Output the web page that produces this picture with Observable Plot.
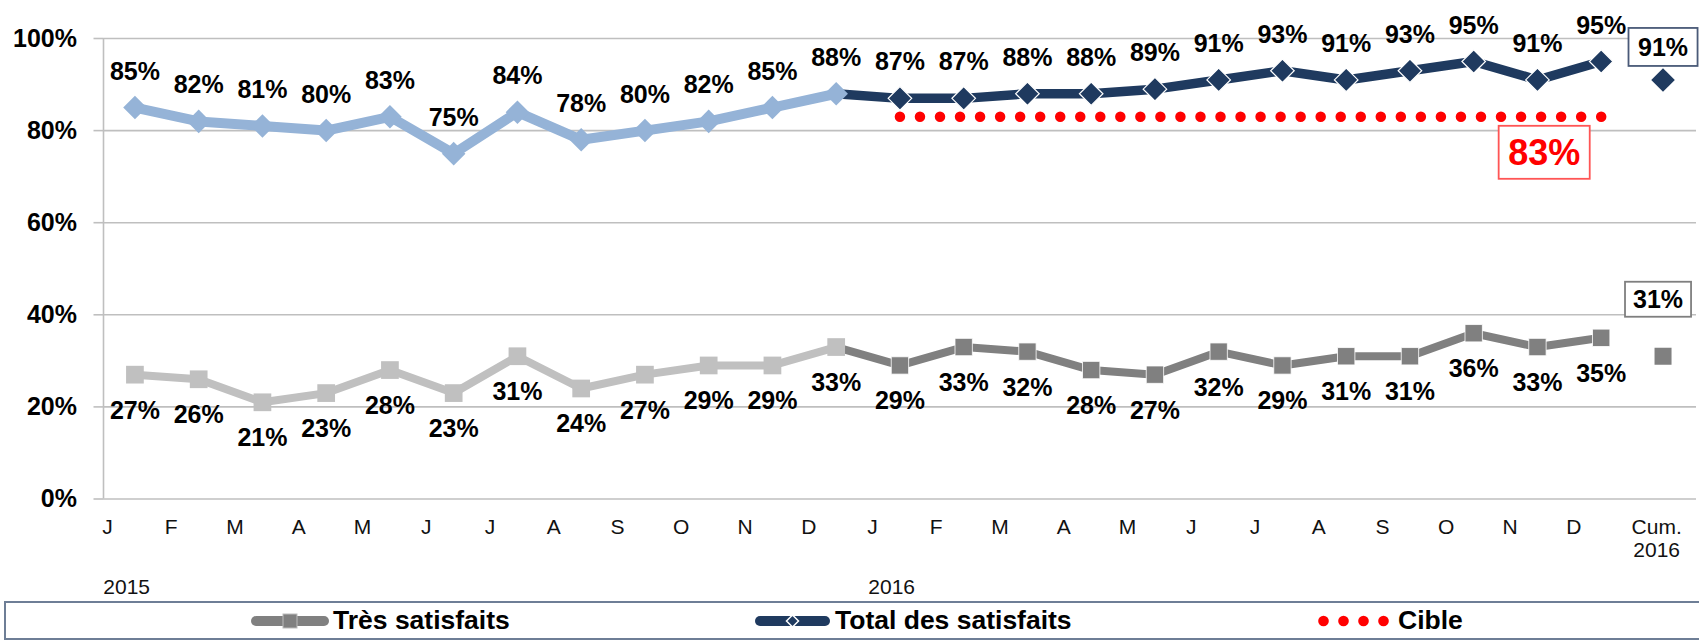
<!DOCTYPE html>
<html>
<head>
<meta charset="utf-8">
<script src="https://cdn.jsdelivr.net/npm/d3@7"></script>
<script src="https://cdn.jsdelivr.net/npm/@observablehq/plot@0.6"></script>
<style>
  html, body { margin: 0; padding: 0; background: #fff; }
  body { width: 1699px; height: 642px; overflow: hidden; position: relative;
         font-family: "Liberation Sans", Arial, Helvetica, sans-serif; }
  #chart { position: absolute; left: 0; top: 0; }
  #legend { position: absolute; left: 4px; top: 601px; width: 1720px; height: 39px;
            border: 2px solid #6E7E96; box-sizing: border-box; background: #fff; }
  .item { position: absolute; top: 0px; height: 35px; display: flex; align-items: center;
          font-weight: bold; font-size: 26.5px; color: #000; white-space: nowrap; }
  .item svg { display: block; }
</style>
</head>
<body>
<div id="chart"></div>
<div id="legend"></div>
<script>
// ---------------- data ----------------
const monthLetters = ["J", "F", "M", "A", "M", "J", "J", "A", "S", "O", "N", "D"];
const years = ["2015", "2016"];
const cumLabel = ["Cum.", "2016"];
const seriesNames = ["Très satisfaits", "Total des satisfaits", "Cible"];

const total2015 = [85, 82, 81, 80, 83, 75, 84, 78, 80, 82, 85, 88];
const total2016 = [87, 87, 88, 88, 89, 91, 93, 91, 93, 95, 91, 95];
const tres2015  = [27, 26, 21, 23, 28, 23, 31, 24, 27, 29, 29, 33];
const tres2016  = [29, 33, 32, 28, 27, 32, 29, 31, 31, 36, 33, 35];
const totalCum = 91;
const tresCum = 31;
const cible = 83;
const yTicks = [0, 20, 40, 60, 80, 100];

// ---------------- layout / style ----------------
const W = 1699, H = 600;
const ML = 103, MR = 3, MT = 38, MB = 101.5;
const X_DOMAIN = [-0.063, 24.925];
const POINT_SHIFT = 0.43;      // markers sit a little right of their category label
const CUM_LABEL_X = 24.3, CUM_POINT_X = 24.4;
const YEAR_SHIFT = 0.3;

const LIGHT_BLUE = "#95B3D7", NAVY = "#1F3A5F";
const LIGHT_GRAY = "#C0C0C0", DARK_GRAY = "#808080";
const RED = "#FF0000", GRID = "#BFBFBF";
const FONT = '"Liberation Sans", Arial, Helvetica, sans-serif';

const fmt = v => v + "%";
const pts = (arr, start) => arr.map((v, k) => ({x: start + k + POINT_SHIFT, y: v}));
const totA = pts(total2015, 0), totB = pts(total2016, 12);
const tresA = pts(tres2015, 0), tresB = pts(tres2016, 12);
const totNavyLine = [totA[totA.length - 1], ...totB];
const tresDarkLine = [tresA[tresA.length - 1], ...tresB];
const cibleLine = totB.map(d => ({x: d.x, y: cible}));
const totCumPt = [{x: CUM_POINT_X, y: totalCum}];
const tresCumPt = [{x: CUM_POINT_X, y: tresCum}];

const xLabels = [...monthLetters, ...monthLetters].map((m, i) => ({x: i, label: m}));
xLabels.push({x: CUM_LABEL_X, label: cumLabel.join("\n")});
const yearLabels = years.map((y, k) => ({x: k * 12 + YEAR_SHIFT, label: y}));

// dot spacing for the target line so that dots fall on both ends
const xPix = d3.scaleLinear(X_DOMAIN, [ML, W - MR]);
const cibleLen = xPix(cibleLine[cibleLine.length - 1].x) - xPix(cibleLine[0].x);
const cibleGap = cibleLen / Math.round(cibleLen / 20);

const labelStyle = {fontSize: 25, fontWeight: "bold", fill: "#000", fontFamily: FONT};

const plot = Plot.plot({
  width: W, height: H,
  marginLeft: ML, marginRight: MR, marginTop: MT, marginBottom: MB,
  x: {type: "linear", domain: X_DOMAIN, axis: null},
  y: {domain: [0, 100], axis: null},
  style: {fontFamily: FONT, background: "white", color: "#000", overflow: "visible"},
  marks: [
    Plot.gridY(yTicks, {stroke: GRID, strokeOpacity: 1, strokeWidth: 1.6}),
    Plot.ruleX([X_DOMAIN[0]], {stroke: GRID, strokeWidth: 1.6}),
    Plot.axisY(yTicks, {tickFormat: fmt, tickSize: 9.5, tickPadding: 17, stroke: GRID, strokeWidth: 1.6,
      fontSize: 25, fontWeight: "bold", fill: "#000", label: null}),

    // x labels
    Plot.text(xLabels, {x: "x", text: "label", frameAnchor: "bottom", lineAnchor: "top", dy: 18.5,
      lineHeight: 1.1, fontSize: 21, fill: "#111"}),
    Plot.text(yearLabels, {x: "x", text: "label", frameAnchor: "bottom", lineAnchor: "middle", dy: 88,
      fontSize: 21, fill: "#111"}),

    // target
    Plot.line(cibleLine, {x: "x", y: "y", stroke: RED, strokeWidth: 10.5, strokeLinecap: "round",
      strokeDasharray: `0 ${cibleGap}`}),

    // très satisfaits
    Plot.line(tresDarkLine, {x: "x", y: "y", stroke: DARK_GRAY, strokeWidth: 8, strokeLinejoin: "round"}),
    Plot.line(tresA, {x: "x", y: "y", stroke: LIGHT_GRAY, strokeWidth: 8, strokeLinejoin: "round"}),
    Plot.dot(tresA, {x: "x", y: "y", symbol: "square", r: 10, fill: LIGHT_GRAY}),
    Plot.dot(tresB, {x: "x", y: "y", symbol: "square", r: 9.8, fill: DARK_GRAY, stroke: "white", strokeWidth: 0.8}),
    Plot.dot(tresCumPt, {x: "x", y: "y", symbol: "square", r: 9.6, fill: DARK_GRAY}),

    // total satisfaits
    Plot.line(totNavyLine, {x: "x", y: "y", stroke: NAVY, strokeWidth: 9.5, strokeLinejoin: "round"}),
    Plot.line(totA, {x: "x", y: "y", stroke: LIGHT_BLUE, strokeWidth: 10, strokeLinejoin: "round"}),
    Plot.dot(totA, {x: "x", y: "y", symbol: "diamond2", r: 10.6, fill: LIGHT_BLUE}),
    Plot.dot(totB, {x: "x", y: "y", symbol: "diamond2", r: 10.6, fill: NAVY, stroke: "white", strokeWidth: 1.2}),
    Plot.dot(totCumPt, {x: "x", y: "y", symbol: "diamond2", r: 10.6, fill: NAVY}),

    // value labels
    Plot.text([...totA, ...totB], {x: "x", y: "y", text: d => fmt(d.y), dy: -36, ...labelStyle}),
    Plot.text([...tresA, ...tresB], {x: "x", y: "y", text: d => fmt(d.y), dy: 36, ...labelStyle}),
    Plot.text(totCumPt, {x: "x", y: "y", text: d => fmt(d.y), dy: -32, ...labelStyle, className: "box-navy"}),
    Plot.text(tresCumPt, {x: "x", y: "y", text: d => fmt(d.y), dy: -56, dx: -5, ...labelStyle, className: "box-gray"}),
    Plot.text([cibleLine[cibleLine.length - 1]], {x: "x", y: "y", text: d => fmt(d.y), dx: -57, dy: 36.5,
      fontSize: 36, fontWeight: "bold", fill: RED, fontFamily: FONT, className: "box-red"})
  ]
});
document.getElementById("chart").appendChild(plot);

// boxes around the highlighted labels (sized from the rendered text)
function boxify(cls, stroke, padX, padY) {
  plot.querySelectorAll(`g.${cls} text`).forEach(t => {
    const b = t.getBBox();
    const r = document.createElementNS("http://www.w3.org/2000/svg", "rect");
    r.setAttribute("x", b.x - padX);
    r.setAttribute("y", b.y - padY);
    r.setAttribute("width", b.width + 2 * padX);
    r.setAttribute("height", b.height + 2 * padY);
    r.setAttribute("fill", "white");
    r.setAttribute("stroke", stroke);
    r.setAttribute("stroke-width", 1.8);
    if (t.getAttribute("transform")) r.setAttribute("transform", t.getAttribute("transform"));
    t.parentNode.insertBefore(r, t);
  });
}
boxify("box-navy", "#4A5A78", 9.5, 5);
boxify("box-gray", "#7F7F7F", 8, 3.5);
boxify("box-red", "#FF5555", 9.5, 6);

// ---------------- legend ----------------
const legend = d3.select("#legend");
const items = [
  {name: seriesNames[0], left: 244.5, gap: 4.5, w: 78, draw: s => {
    s.append("line").attr("x1", 5).attr("x2", 73).attr("y1", 10).attr("y2", 10)
      .attr("stroke", DARK_GRAY).attr("stroke-width", 10).attr("stroke-linecap", "round");
    s.append("rect").attr("x", 39 - 7).attr("y", 3).attr("width", 14).attr("height", 14)
      .attr("fill", DARK_GRAY).attr("stroke", "#BBBBBB").attr("stroke-width", 1);
  }},
  {name: seriesNames[1], left: 749, gap: 5, w: 75, draw: s => {
    s.append("line").attr("x1", 5).attr("x2", 70).attr("y1", 10).attr("y2", 10)
      .attr("stroke", NAVY).attr("stroke-width", 10).attr("stroke-linecap", "round");
    s.append("path").attr("d", "M37.5,4 L43.5,10 L37.5,16 L31.5,10 Z")
      .attr("fill", NAVY).attr("stroke", "white").attr("stroke-width", 1.5);
  }},
  {name: seriesNames[2], left: 1311.5, gap: 9.5, w: 71, draw: s => {
    [0, 1, 2, 3].forEach(k => s.append("circle").attr("cx", 5.5 + 20 * k).attr("cy", 10).attr("r", 5.3).attr("fill", RED));
  }}
];
items.forEach(it => {
  const div = legend.append("div").attr("class", "item").style("left", it.left + "px");
  const s = div.append("svg").attr("width", it.w).attr("height", 20).style("margin-right", it.gap + "px");
  it.draw(s);
  div.append("span").text(it.name);
});
</script>
</body>
</html>
